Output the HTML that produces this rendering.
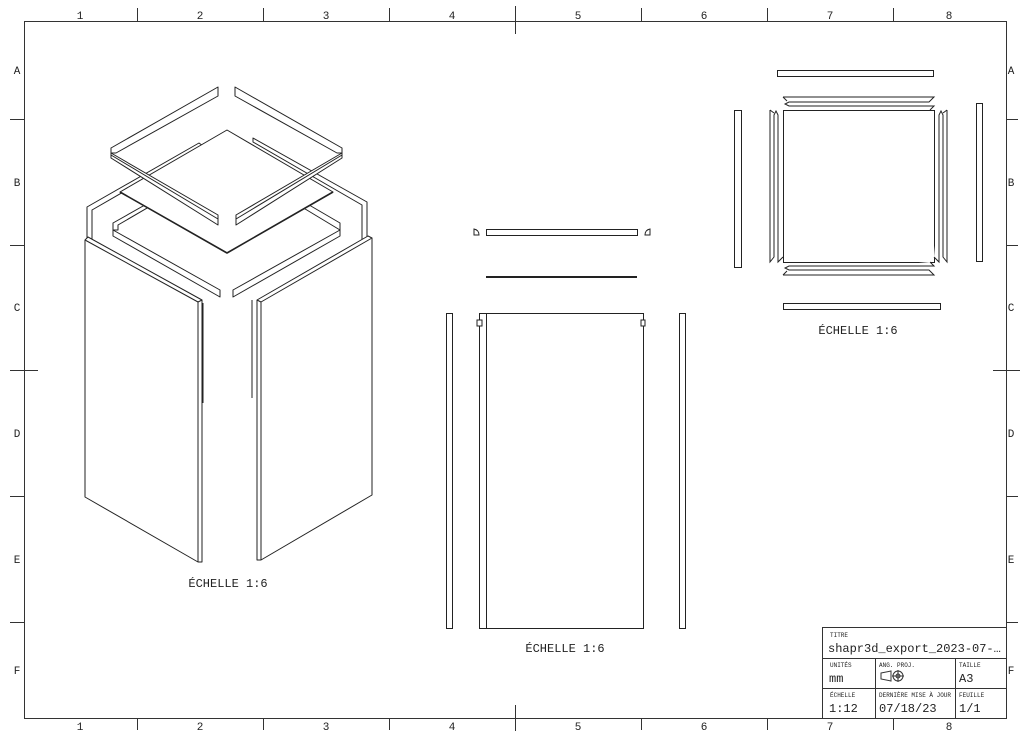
<!DOCTYPE html>
<html><head><meta charset="utf-8"><style>
html,body{margin:0;padding:0;background:#fff;}
svg{display:block;}
text{font-family:"Liberation Mono","DejaVu Sans Mono",monospace;fill:#222;}
</style></head><body>
<svg width="1024" height="737" viewBox="0 0 1024 737" xmlns="http://www.w3.org/2000/svg">
<g stroke="#333" stroke-width="1" fill="none">
<rect x="24.5" y="21.5" width="982" height="697"/>
<path d="M137.5 8V21 M263.5 8V21 M389.5 8V21 M641.5 8V21 M767.5 8V21 M893.5 8V21 M515.5 6V34"/>
<path d="M137.5 718V730 M263.5 718V730 M389.5 718V730 M641.5 718V730 M767.5 718V730 M893.5 718V730 M515.5 705V731"/>
<path d="M10 119.5H24 M10 245.5H24 M10 496.5H24 M10 622.5H24 M10 370.5H38"/>
<path d="M1006 119.5H1018 M1006 245.5H1018 M1006 496.5H1018 M1006 622.5H1018 M993 370.5H1020"/>
<path d="M822.5 718V627.5H1006 M822.5 658.5H1006 M822.5 688.5H1006 M875.5 658.5V718 M955.5 658.5V718"/>
</g>
<g font-size="11" text-anchor="middle">
<text x="80" y="19">1</text><text x="200" y="19">2</text><text x="326" y="19">3</text><text x="452" y="19">4</text><text x="578" y="19">5</text><text x="704" y="19">6</text><text x="830" y="19">7</text><text x="949" y="19">8</text>
<text x="80" y="730">1</text><text x="200" y="730">2</text><text x="326" y="730">3</text><text x="452" y="730">4</text><text x="578" y="730">5</text><text x="704" y="730">6</text><text x="830" y="730">7</text><text x="949" y="730">8</text>
<text x="17" y="74">A</text><text x="17" y="186">B</text><text x="17" y="311">C</text><text x="17" y="437">D</text><text x="17" y="563">E</text><text x="17" y="674">F</text>
<text x="1011" y="74">A</text><text x="1011" y="186">B</text><text x="1011" y="311">C</text><text x="1011" y="437">D</text><text x="1011" y="563">E</text><text x="1011" y="674">F</text>
</g>
<g font-size="12" text-anchor="middle">
<text x="228" y="587">ÉCHELLE 1:6</text>
<text x="565" y="652">ÉCHELLE 1:6</text>
<text x="858" y="334">ÉCHELLE 1:6</text>
</g>
<g font-size="6">
<text x="830" y="637">TITRE</text>
<text x="830" y="667">UNITÉS</text><text x="879" y="667">ANG. PROJ.</text><text x="959" y="667">TAILLE</text>
<text x="830" y="697">ÉCHELLE</text><text x="879" y="697">DERNIÈRE MISE À JOUR</text><text x="959" y="697">FEUILLE</text>
</g>
<g font-size="12">
<text x="828" y="652">shapr3d_export_2023-07-…</text>
<text x="829" y="682">mm</text><text x="959" y="682">A3</text>
<text x="829" y="712">1:12</text><text x="879" y="712">07/18/23</text><text x="959" y="712">1/1</text>
</g>
<g stroke="#333" fill="none" stroke-width="1">
<path d="M881 673 L891 671 V681 L881 679 Z"/><circle cx="898" cy="676" r="5"/><circle cx="898" cy="676" r="2"/><path d="M892 676H904 M898 670V682"/>
</g>

<g stroke="#222" fill="#fff" stroke-width="1" stroke-linejoin="round">
<polygon points="87,207 199,143 203,146 92,210 92,240 87,240"/>
<polygon points="253,138 367,202 367,240 362,240 362,205 253,142"/>
<polygon points="113,223 175,188 178,190 118,225 118,230 113,230"/>
<polygon points="280,188 340,223 340,230 335,227 277,192"/>
<polygon points="113,230 220,290 220,297 113,236"/>
<polygon points="233,297 233,290 340,230 340,236"/>
<polygon points="85,240 88,237 202,300 202,562 198,562 85,497"/>
<path d="M85,240 L198,302 L198,562 M198,302 L202,300"/>
<polygon points="372,238 372,495 261,560 257,560 257,300 368,236"/>
<path d="M372,238 L261,302 L261,560 M257,300 L261,302"/>
<path d="M203,303 V403 M252,300 V398" />
<polygon points="227,130 333,192 227,253 120,192" />
<path d="M120,192 L227,253 L333,192" stroke-width="1.6"/>
<polygon points="111,158 111,153 218,215 218,225"/>
<path d="M111,155 L218,219"/>
<polygon points="236,225 236,215 342,153 342,158"/>
<path d="M236,219 L342,155"/>
<polygon points="111,148 218,87 218,96 116,153 111,153"/>
<polygon points="235,87 342,148 342,153 337,153 235,96"/>
</g>

<g stroke="#222" fill="#fff" stroke-width="1">
<rect x="446.5" y="313.5" width="6" height="315"/>
<rect x="679.5" y="313.5" width="6" height="315"/>
<rect x="479.5" y="313.5" width="164" height="315"/>
<path d="M486.5 313V628"/>
<path d="M477 320h5v6h-5z M641 320h4v6h-4z"/>
<rect x="486.5" y="229.5" width="151" height="6"/>
<path d="M474 229 V235 H479 Q479 230 474 229 Z M650 229 V235 H645 Q645 230 650 229 Z"/>
</g>
<path d="M486 277H637" stroke="#222" stroke-width="2"/>

<g stroke="#222" fill="#fff" stroke-width="1">
<rect x="777.5" y="70.5" width="156" height="6"/>
<rect x="783.5" y="303.5" width="157" height="6"/>
<rect x="734.5" y="110.5" width="7" height="157"/>
<rect x="976.5" y="103.5" width="6" height="158"/>
<rect x="783.5" y="110.5" width="151" height="152"/>
<path d="M783 97H934 L929 102H789 L785 104 L789 106H934 L930 110 M783 97 L787 101"/>
<path d="M783 275H934 L929 270H789 L785 268 L789 266H934 L930 262 M783 275 L787 271"/>
<path d="M770 110V262 L774 257V115 L776 111 L778 115V262 L783 257 M770 110 L774 113"/>
<path d="M947 110V262 L943 257V115 L941 111 L939 115V262 L934 257 M947 110 L943 113"/>
</g>
</svg>
</body></html>
